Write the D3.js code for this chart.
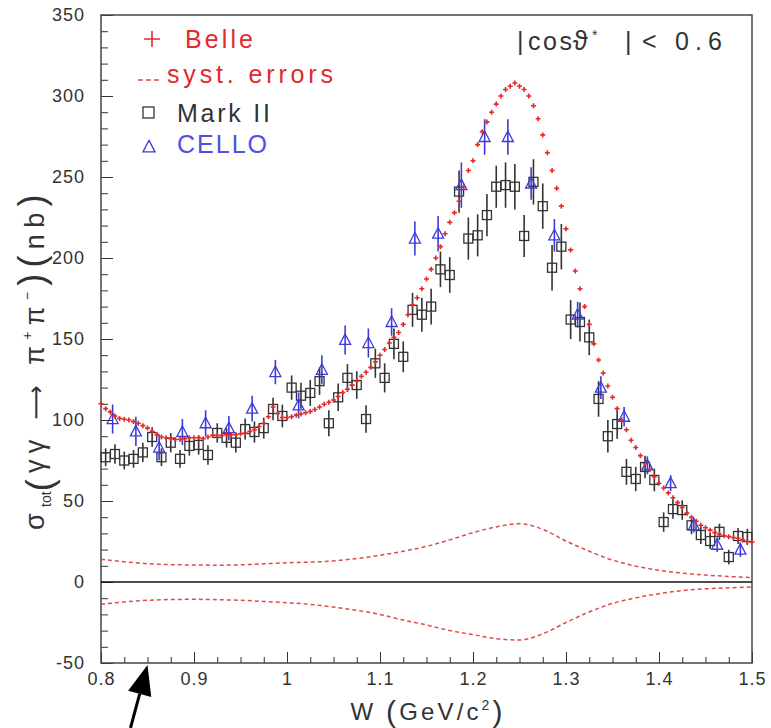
<!DOCTYPE html>
<html>
<head>
<meta charset="utf-8">
<script src="https://cdn.jsdelivr.net/npm/d3@7"></script>
<style>
  body { margin: 0; background: #fff; }
  svg { display: block; }
  text { font-family: "Liberation Sans", Arial, sans-serif; }
</style>
</head>
<body>
<svg id="chart" width="771" height="728"></svg>
<script>
// ---- axis setup ----
const xDomain = [0.8, 1.5];
const yDomain = [-50, 350];
const xMajorTicks = [0.8, 0.9, 1.0, 1.1, 1.2, 1.3, 1.4, 1.5];
const xTickLabels = ["0.8", "0.9", "1", "1.1", "1.2", "1.3", "1.4", "1.5"];
const yMajorTicks = [-50, 0, 50, 100, 150, 200, 250, 300, 350];
const yTickLabels = ["-50", "0", "50", "100", "150", "200", "250", "300", "350"];

// ---- Belle: 5 MeV bins, 0.800 ... 1.500 GeV (nb) ----
const belleStart = 0.8, belleStep = 0.005;
const belleSigma = [
  110, 107, 105, 102.5, 101, 100.5, 100, 99, 98, 96.5,
  95, 93, 91, 89.5, 89, 88.5, 88, 88, 88.5, 89,
  89, 89, 88.5, 89.5, 90.5, 90.5, 90.5, 91, 91, 91,
  91.5, 92, 93, 94, 96, 98, 102, 108, 104, 101.5,
  101.5, 102, 103, 103.7, 104.5, 105.3, 106.5, 108, 109.7, 111,
  112.3, 114.5, 117, 119, 121.5, 124, 127, 129.5, 132.5, 136,
  140, 143.5, 147.5, 151, 154, 159, 165, 171, 175.5, 181,
  187, 193, 200, 207, 215, 222, 228, 235, 244, 254,
  260, 270, 278, 284, 290, 295, 300, 304, 306, 308,
  306, 304, 300, 294, 286, 276, 265, 254, 243, 232,
  218, 205, 192, 181, 170, 159, 147, 137, 129, 121,
  114, 107, 100, 94, 87.5, 83, 78, 73, 69.5, 65,
  61, 58, 55, 52, 49, 46, 42.5, 40, 37.5, 35,
  33.5, 32, 30.5, 29.5, 28.5, 28, 27.5, 27, 26, 25,
  24.5
];

// ---- Belle systematic error band ----
const systW = [0.800, 0.825, 0.850, 0.875, 0.900, 0.925, 0.950, 0.975, 1.000, 1.025,
               1.050, 1.075, 1.100, 1.125, 1.150, 1.175, 1.200, 1.225, 1.250, 1.275,
               1.300, 1.325, 1.350, 1.375, 1.400, 1.425, 1.450, 1.475, 1.500];
const systUp = [14, 12.5, 11.3, 10.7, 10.5, 10.4, 10.6, 11.2, 11.9, 12.3,
                13, 14.5, 16.5, 19, 22, 26, 30.5, 34, 36, 32.5,
                25.3, 19, 13.5, 9.8, 7.2, 5.5, 4.3, 3.4, 2.7];
const systDown = [-13.8, -12.3, -11.3, -10.8, -10.7, -10.9, -11.3, -12, -12.8, -13.8,
                  -15.5, -17.5, -20, -23.5, -26.5, -30, -32.5, -35, -35.8, -32,
                  -25, -18.5, -13.2, -9.8, -7.2, -5.3, -4.2, -3.6, -3.1];

// ---- Mark II: 10 MeV bins, centres 0.805 ... 1.495 GeV ----
const markStart = 0.805, markStep = 0.01;
const markSigma = [
  77, 79, 75, 76, 80, 89.5, 77, 86, 76, 84,
  84.6, 78.4, 92, 89, 86, 94.4, 92.6, 95, 106.8, 102.5,
  120, 115, 116.7, 124, 98, 114, 126, 121.6, 100.6, 135,
  126, 147, 139, 168, 165, 170, 193, 189.5, 241, 212,
  214, 226.5, 244, 245, 244, 213.6, 247, 232, 194, 207,
  162, 160.5, 151, 113, 90, 97.5, 68, 63.6, 71, 63,
  37, 45, 44.4, 35, 29, 25.3, 31, 15.4, 28.4, 27.8
];
const markErr = [
  5.5, 6, 5.5, 5.5, 6, 6, 5.5, 6, 5.5, 6,
  6, 6, 6, 6, 6, 6.5, 6.5, 6.5, 7, 7,
  7.5, 8, 8, 8.5, 8, 8.5, 8.5, 8.5, 8.5, 9,
  9, 9.5, 9.5, 10.5, 10.5, 11, 11, 11, 13, 13,
  13, 13, 13, 14, 14, 13, 14, 14, 14, 14,
  12, 12, 11, 11, 10, 9, 8, 7.5, 7, 7,
  6, 6, 6, 5.5, 5.5, 5, 5, 4.5, 5, 5
];

// ---- CELLO: 25 MeV bins, centres 0.8125 ... 1.4875 GeV ----
const celloStart = 0.8125, celloStep = 0.025;
const celloSigma = [
  100.6, 93, 83, 92.6, 98, 95, 107, 129.6, 109, 131,
  149.4, 147.5, 160.5, 212, 215, 245, 274.7, 274.7, 246, 214,
  165, 120, 102, 72, 61, 35, 23, 20
];
const celloErr = [
  9, 9, 8, 8, 8, 7.5, 8, 7.5, 8, 9,
  9, 9, 8.5, 10.5, 11, 14, 11, 11, 10, 10,
  8, 7, 6, 5.5, 5, 4.5, 4.5, 4.5
];

const legendItems = ["Belle", "syst. errors", "Mark II", "CELLO"];
const arrowAt = 0.85;

// ---- colours ----
const red = "#e22a2a", redDash = "#e04a4a", blue = "#3b3bdd", dark = "#333";

const svg = d3.select("#chart");
const plot = { left: 101, right: 752, top: 15, bottom: 663 };
const x = d3.scaleLinear().domain(xDomain).range([plot.left, plot.right]);
const y = d3.scaleLinear().domain(yDomain).range([plot.bottom, plot.top]);

const belle = belleSigma.map((v, i) => ({ w: belleStart + i * belleStep, v }));
const mark = markSigma.map((v, i) => ({ w: markStart + i * markStep, v, e: markErr[i] }));
const cello = celloSigma.map((v, i) => ({ w: celloStart + i * celloStep, v, e: celloErr[i] }));

// ---- axes (ticks point into the frame) ----
const xMinor = d3.range(0, 29).map(i => xDomain[0] + i * 0.025);
const yMinor = d3.range(-50, 351, 10);

svg.append("g").attr("transform", `translate(0,${plot.bottom})`)
  .call(d3.axisBottom(x).tickValues(xMinor).tickSize(-6).tickFormat(""))
  .call(g => g.select(".domain").remove())
  .call(g => g.selectAll("line").attr("stroke", dark));

svg.append("g").attr("transform", `translate(0,${plot.bottom})`)
  .call(d3.axisBottom(x).tickValues(xMajorTicks).tickSize(-11).tickPadding(9)
        .tickFormat((d, i) => xTickLabels[i]))
  .call(g => g.select(".domain").remove())
  .call(g => g.selectAll("line").attr("stroke", dark))
  .call(g => g.selectAll("text").attr("font-size", 18).attr("fill", dark)
        .attr("font-family", "Liberation Sans, Arial, sans-serif").attr("letter-spacing", "1px"));

svg.append("g").attr("transform", `translate(${plot.left},0)`)
  .call(d3.axisLeft(y).tickValues(yMinor).tickSize(-7).tickFormat(""))
  .call(g => g.select(".domain").remove())
  .call(g => g.selectAll("line").attr("stroke", dark));

svg.append("g").attr("transform", `translate(${plot.left},0)`)
  .call(d3.axisLeft(y).tickValues(yMajorTicks).tickSize(-12).tickPadding(16)
        .tickFormat((d, i) => yTickLabels[i]))
  .call(g => g.select(".domain").remove())
  .call(g => g.selectAll("line").attr("stroke", dark))
  .call(g => g.selectAll("text").attr("font-size", 18).attr("fill", dark)
        .attr("font-family", "Liberation Sans, Arial, sans-serif").attr("letter-spacing", "1px"));

// frame
svg.append("rect")
  .attr("x", plot.left).attr("y", plot.top)
  .attr("width", plot.right - plot.left).attr("height", plot.bottom - plot.top)
  .attr("fill", "none").attr("stroke", "#444").attr("stroke-width", 1.5);

// zero line
svg.append("line")
  .attr("x1", plot.left).attr("x2", plot.right)
  .attr("y1", y(0)).attr("y2", y(0))
  .attr("stroke", "#111").attr("stroke-width", 1.5);

// ---- systematic error curves ----
const systLine = d3.line().x(d => x(d[0])).y(d => y(d[1])).curve(d3.curveMonotoneX);
[systUp, systDown].forEach(arr => {
  svg.append("path")
    .datum(systW.map((w, i) => [w, arr[i]]))
    .attr("d", systLine)
    .attr("fill", "none").attr("stroke", redDash)
    .attr("stroke-width", 1.5).attr("stroke-dasharray", "4,3");
});

// ---- Mark II: open squares with error bars ----
const gm = svg.append("g");
gm.selectAll("line").data(mark).join("line")
  .attr("x1", d => x(d.w)).attr("x2", d => x(d.w))
  .attr("y1", d => y(d.v - d.e)).attr("y2", d => y(d.v + d.e))
  .attr("stroke", dark).attr("stroke-width", 1.6);
gm.selectAll("rect").data(mark).join("rect")
  .attr("x", d => x(d.w) - 4.5).attr("y", d => y(d.v) - 4.5)
  .attr("width", 9).attr("height", 9)
  .attr("fill", "none").attr("stroke", dark).attr("stroke-width", 1.3);

// ---- CELLO: open triangles with error bars ----
const tri = (cx, cy, s) => `M${cx},${cy - s * 0.6}L${cx + s * 0.55},${cy + s * 0.45}L${cx - s * 0.55},${cy + s * 0.45}Z`;
const gc = svg.append("g");
gc.selectAll("line").data(cello).join("line")
  .attr("x1", d => x(d.w)).attr("x2", d => x(d.w))
  .attr("y1", d => y(d.v - d.e)).attr("y2", d => y(d.v + d.e))
  .attr("stroke", blue).attr("stroke-width", 1.6);
gc.selectAll("path").data(cello).join("path")
  .attr("d", d => tri(x(d.w), y(d.v), 10))
  .attr("fill", "none").attr("stroke", blue).attr("stroke-width", 1.3);

// ---- Belle: small red crosses ----
svg.append("g").selectAll("path").data(belle).join("path")
  .attr("d", d => { const cx = x(d.w), cy = y(d.v); return `M${cx - 2.5},${cy}h5M${cx},${cy - 2.5}v5`; })
  .attr("stroke", red).attr("stroke-width", 1.6).attr("fill", "none");

// ---- legend ----
const lg = svg.append("g");
lg.append("path").attr("d", "M144,39h16M152,31v16").attr("stroke", red).attr("stroke-width", 1.6);
lg.append("text").attr("x", 185).attr("y", 48).attr("font-size", 25).attr("fill", red)
  .attr("textLength", 68).attr("lengthAdjust", "spacing").text(legendItems[0]);
lg.append("line").attr("x1", 138).attr("x2", 161).attr("y1", 80).attr("y2", 80)
  .attr("stroke", redDash).attr("stroke-width", 1.5).attr("stroke-dasharray", "5,3");
lg.append("text").attr("x", 167).attr("y", 83).attr("font-size", 25).attr("fill", red)
  .attr("textLength", 166).attr("lengthAdjust", "spacing").text(legendItems[1]);
lg.append("rect").attr("x", 143).attr("y", 107).attr("width", 11).attr("height", 11)
  .attr("fill", "none").attr("stroke", dark).attr("stroke-width", 1.3);
lg.append("text").attr("x", 177).attr("y", 122).attr("font-size", 25).attr("fill", dark)
  .attr("textLength", 93).attr("lengthAdjust", "spacing").text(legendItems[2]);
lg.append("path").attr("d", tri(149, 147, 11)).attr("fill", "none").attr("stroke", blue).attr("stroke-width", 1.3);
lg.append("text").attr("x", 177).attr("y", 153).attr("font-size", 25).attr("fill", "#5050e0")
  .attr("textLength", 90).attr("lengthAdjust", "spacing").text(legendItems[3]);

// ---- angular cut label ----
const cut = svg.append("text").attr("y", 50).attr("font-size", 25).attr("fill", dark);
cut.append("tspan").attr("x", 517).text("|");
cut.append("tspan").attr("x", 528).attr("textLength", 44).attr("lengthAdjust", "spacing").text("cos");
cut.append("tspan").attr("x", 573).attr("font-size", 27).text("ϑ");
cut.append("tspan").attr("x", 592).attr("dy", -10).attr("font-size", 14).text("*");
cut.append("tspan").attr("x", 625).attr("dy", 10).text("|");
cut.append("tspan").attr("x", 642).text("<");
cut.append("tspan").attr("x", 675).attr("textLength", 47).attr("lengthAdjust", "spacing").text("0.6");

// ---- axis titles ----
const xt = svg.append("text").attr("x", (plot.left + plot.right) / 2).attr("y", 720)
  .attr("text-anchor", "middle").attr("font-size", 24).attr("fill", dark)
  .attr("textLength", 152).attr("lengthAdjust", "spacing");
xt.append("tspan").text("W ");
xt.append("tspan").attr("font-size", 30).attr("dy", 2).text("(");
xt.append("tspan").attr("dy", -2).text("GeV/c");
xt.append("tspan").attr("font-size", 14).attr("dy", -10).text("2");
xt.append("tspan").attr("font-size", 30).attr("dy", 12).text(")");

// y title: σ_tot(γγ → π+π−)(nb), spread to span the axis height
const yt = svg.append("text")
  .attr("transform", "translate(44,359) rotate(-90)")
  .attr("text-anchor", "middle").attr("font-size", 27).attr("fill", dark);
const ytParts = [
  yt.append("tspan").text("σ"),
  yt.append("tspan").attr("font-size", 14).attr("dy", 7).attr("class", "sub").text("tot"),
  yt.append("tspan").attr("font-size", 36).attr("dy", 1).text("("),
  yt.append("tspan").attr("dy", -8).text("γγ "),
  yt.append("tspan").attr("font-family", "DejaVu Sans").attr("font-size", 24).text("⟶"),
  yt.append("tspan").text(" π"),
  yt.append("tspan").attr("font-size", 14).attr("dy", -12).text("+"),
  yt.append("tspan").attr("dy", 12).text("π"),
  yt.append("tspan").attr("font-size", 14).attr("dy", -12).text("−"),
  yt.append("tspan").attr("font-size", 36).attr("dy", 12).text(")("),
  yt.append("tspan").text("nb"),
  yt.append("tspan").attr("font-size", 36).text(")")
];
{
  const target = 342;
  const spread = ytParts.filter(p => p.attr("class") !== "sub");
  const n = spread.reduce((s, p) => s + p.text().length, 0);
  const L = yt.node().getComputedTextLength();
  const ls = Math.max(0, (target - L) / n) + "px";
  spread.forEach(p => p.attr("letter-spacing", ls));
}

// ---- arrow pointing at W = 0.85 on the axis ----
const tip = [x(arrowAt), y(yDomain[0]) + 2];
const tail = [tip[0] - 17, 728];
const len = Math.hypot(tip[0] - tail[0], tip[1] - tail[1]);
const ux = (tip[0] - tail[0]) / len, uy = (tip[1] - tail[1]) / len;
const hb = [tip[0] - 30 * ux, tip[1] - 30 * uy];
svg.append("line").attr("x1", tail[0]).attr("y1", tail[1]).attr("x2", hb[0]).attr("y2", hb[1])
  .attr("stroke", "#000").attr("stroke-width", 3);
svg.append("path")
  .attr("d", `M${tip[0]},${tip[1]}L${hb[0] - 12 * uy},${hb[1] + 12 * ux}L${hb[0] + 12 * uy},${hb[1] - 12 * ux}Z`)
  .attr("fill", "#000");
</script>
</body>
</html>
